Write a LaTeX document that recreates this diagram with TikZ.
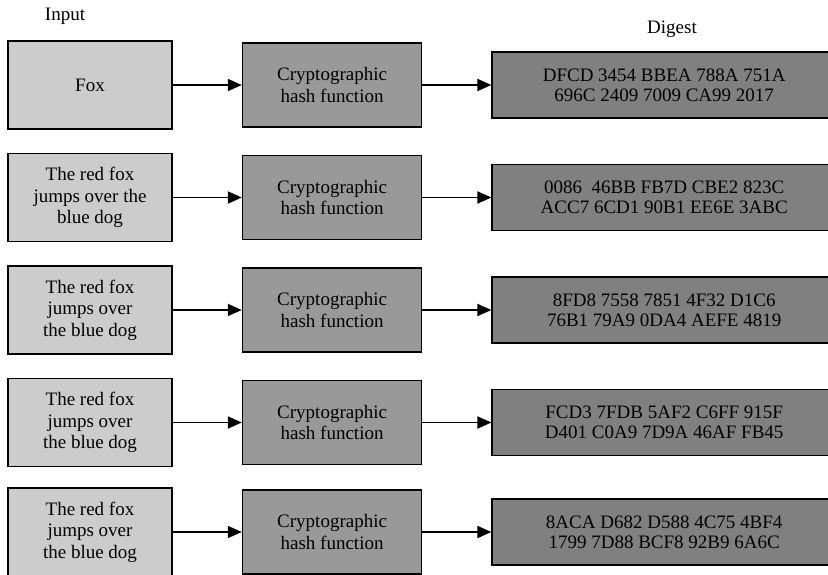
\documentclass[tikz,border=0pt]{standalone}
\usepackage{fontspec}
\setmainfont{Liberation Serif}
\usepackage{xcolor}
\usetikzlibrary{arrows.meta, positioning}

\definecolor{inputgray}{HTML}{CCCCCC}
\definecolor{hashgray}{HTML}{999999}
\definecolor{digestgray}{HTML}{808080}

\tikzset{
    inbox/.style={draw, line width=1.6pt, fill=inputgray, minimum width=164pt, minimum height=88pt,
        align=center, inner sep=0pt, font=\rmfamily\fontsize{19}{21.5}\selectfont},
    hashbox/.style={draw, line width=1.6pt, fill=hashgray, minimum width=179pt, minimum height=84pt,
        align=center, inner sep=0pt, font=\rmfamily\fontsize{19}{21.5}\selectfont},
    digestbox/.style={draw, line width=1.6pt, fill=digestgray, minimum width=344pt, minimum height=66pt,
        align=center, inner sep=0pt, font=\rmfamily\fontsize{19}{20}\selectfont},
    flow/.style={-{Triangle[length=14pt, width=12pt]}, line width=1.8pt}
}

\begin{document}
\begin{tikzpicture}[x=1pt, y=-1pt, node distance=69pt, line join=miter]
            \useasboundingbox (0,0) rectangle (828,575);

            % column titles
            \node (inTitle) at (65,16) {\fontsize{19}{21}\selectfont Input};
            \node (digTitle) at (672,29) {\fontsize{19}{21}\selectfont Digest};

            % row 1
            \node[inbox] (in1) at (90,85) {Fox};
            \node[hashbox, right=of in1] (hash1) {Cryptographic\\hash function};
            \node[digestbox, right=of hash1] (dig1) {DFCD 3454 BBEA 788A 751A\\696C 2409 7009 CA99 2017};
            \draw[flow] (in1) -- (hash1);
            \draw[flow] (hash1) -- (dig1);

            % row 2
            \node[inbox] (in2) at (90,197.5) {The red fox\\jumps over the\\blue dog};
            \node[hashbox, right=of in2] (hash2) {Cryptographic\\hash function};
            \node[digestbox, right=of hash2] (dig2) {0086\ \ 46BB FB7D CBE2 823C\\ACC7 6CD1 90B1 EE6E 3ABC};
            \draw[flow] (in2) -- (hash2);
            \draw[flow] (hash2) -- (dig2);

            % row 3
            \node[inbox] (in3) at (90,310) {The red fox\\jumps over\\the blue dog};
            \node[hashbox, right=of in3] (hash3) {Cryptographic\\hash function};
            \node[digestbox, right=of hash3] (dig3) {8FD8 7558 7851 4F32 D1C6\\76B1 79A9 0DA4 AEFE 4819};
            \draw[flow] (in3) -- (hash3);
            \draw[flow] (hash3) -- (dig3);

            % row 4
            \node[inbox] (in4) at (90,422.5) {The red fox\\jumps over\\the blue dog};
            \node[hashbox, right=of in4] (hash4) {Cryptographic\\hash function};
            \node[digestbox, right=of hash4] (dig4) {FCD3 7FDB 5AF2 C6FF 915F\\D401 C0A9 7D9A 46AF FB45};
            \draw[flow] (in4) -- (hash4);
            \draw[flow] (hash4) -- (dig4);

            % row 5 (cut off at the bottom)
            \node[inbox] (in5) at (90,532) {The red fox\\jumps over\\the blue dog};
            \node[hashbox, right=of in5] (hash5) {Cryptographic\\hash function};
            \node[digestbox, right=of hash5] (dig5) {8ACA D682 D588 4C75 4BF4\\1799 7D88 BCF8 92B9 6A6C};
            \draw[flow] (in5) -- (hash5);
            \draw[flow] (hash5) -- (dig5);
\end{tikzpicture}
\end{document}
